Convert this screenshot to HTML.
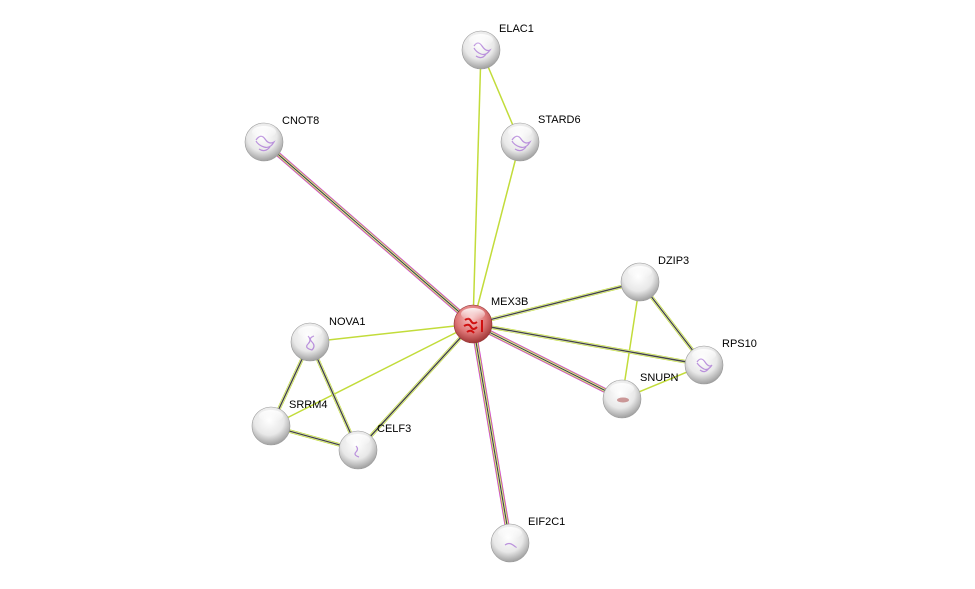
<!DOCTYPE html>
<html><head><meta charset="utf-8"><style>
html,body{margin:0;padding:0;background:#fff;}
svg{display:block;}
text{font-family:"Liberation Sans",sans-serif;font-size:11px;fill:#000;}
</style></head><body>
<svg width="975" height="589" viewBox="0 0 975 589" xmlns="http://www.w3.org/2000/svg">
<defs>
<radialGradient id="g" cx="45%" cy="35%" r="65%">
<stop offset="0" stop-color="#ffffff"/><stop offset="0.6" stop-color="#e8e8e8"/><stop offset="1" stop-color="#a0a0a0"/>
</radialGradient>
<radialGradient id="r" cx="45%" cy="35%" r="65%">
<stop offset="0" stop-color="#f8c8c8"/><stop offset="0.6" stop-color="#dd7575"/><stop offset="1" stop-color="#a03535"/>
</radialGradient>
<linearGradient id="hl" x1="0" y1="0" x2="0" y2="1">
<stop offset="0" stop-color="#fff" stop-opacity="0.9"/><stop offset="1" stop-color="#fff" stop-opacity="0"/>
</linearGradient>
</defs>
<g stroke-linecap="butt">
<g stroke="#c2dc3a" stroke-width="1.5">
<line x1="473" y1="324" x2="481" y2="50"/>
<line x1="473" y1="324" x2="520" y2="142"/>
<line x1="481" y1="50" x2="520" y2="142"/>
<line x1="473" y1="324" x2="310" y2="342"/>
<line x1="473" y1="324" x2="271" y2="426"/>
<line x1="640" y1="282" x2="622" y2="399"/>
<line x1="622" y1="399" x2="704" y2="365"/>
</g>
<g>
<line x1="473" y1="324" x2="264" y2="142" stroke="#d040d0" stroke-width="5"/>
<line x1="473" y1="324" x2="264" y2="142" stroke="#c2dc3a" stroke-width="3.4"/>
<line x1="473" y1="324" x2="264" y2="142" stroke="#fff" stroke-width="2"/>
<line x1="473" y1="324" x2="264" y2="142" stroke="#444" stroke-width="1.2"/>
<line x1="473" y1="324" x2="622" y2="399" stroke="#d040d0" stroke-width="5"/>
<line x1="473" y1="324" x2="622" y2="399" stroke="#c2dc3a" stroke-width="3.4"/>
<line x1="473" y1="324" x2="622" y2="399" stroke="#fff" stroke-width="2"/>
<line x1="473" y1="324" x2="622" y2="399" stroke="#444" stroke-width="1.2"/>
<line x1="473" y1="324" x2="510" y2="543" stroke="#d040d0" stroke-width="5"/>
<line x1="473" y1="324" x2="510" y2="543" stroke="#c2dc3a" stroke-width="3.4"/>
<line x1="473" y1="324" x2="510" y2="543" stroke="#fff" stroke-width="2"/>
<line x1="473" y1="324" x2="510" y2="543" stroke="#444" stroke-width="1.2"/>
</g>
<g>
<g stroke="#c2dc3a" stroke-width="3.6">
<line x1="473" y1="324" x2="640" y2="282"/>
<line x1="473" y1="324" x2="704" y2="365"/>
<line x1="473" y1="324" x2="358" y2="450"/>
<line x1="640" y1="282" x2="704" y2="365"/>
<line x1="310" y1="342" x2="271" y2="426"/>
<line x1="310" y1="342" x2="358" y2="450"/>
<line x1="271" y1="426" x2="358" y2="450"/>
</g>
<g stroke="#fff" stroke-width="2.2">
<line x1="473" y1="324" x2="640" y2="282"/>
<line x1="473" y1="324" x2="704" y2="365"/>
<line x1="473" y1="324" x2="358" y2="450"/>
<line x1="640" y1="282" x2="704" y2="365"/>
<line x1="310" y1="342" x2="271" y2="426"/>
<line x1="310" y1="342" x2="358" y2="450"/>
<line x1="271" y1="426" x2="358" y2="450"/>
</g>
<g stroke="#444" stroke-width="1.4">
<line x1="473" y1="324" x2="640" y2="282"/>
<line x1="473" y1="324" x2="704" y2="365"/>
<line x1="473" y1="324" x2="358" y2="450"/>
<line x1="640" y1="282" x2="704" y2="365"/>
<line x1="310" y1="342" x2="271" y2="426"/>
<line x1="310" y1="342" x2="358" y2="450"/>
<line x1="271" y1="426" x2="358" y2="450"/>
</g>
</g>
</g>
<g stroke="#999" stroke-width="0.6">
<circle cx="481" cy="50" r="19" fill="url(#g)"/>
<circle cx="520" cy="142" r="19" fill="url(#g)"/>
<circle cx="264" cy="142" r="19" fill="url(#g)"/>
<circle cx="640" cy="282" r="19" fill="url(#g)"/>
<circle cx="704" cy="365" r="19" fill="url(#g)"/>
<circle cx="622" cy="399" r="19" fill="url(#g)"/>
<circle cx="310" cy="342" r="19" fill="url(#g)"/>
<circle cx="271" cy="426" r="19" fill="url(#g)"/>
<circle cx="358" cy="450" r="19" fill="url(#g)"/>
<circle cx="510" cy="543" r="19" fill="url(#g)"/>
<circle cx="473" cy="324" r="19" fill="url(#r)" stroke="#903030"/>
</g>
<g fill="none" stroke="#b080d8" stroke-width="1.2" opacity="0.85">
<path d="M474 46 q4 -6 8 0 t8 4 q-4 6 -9 4 t-7 -6 M476 56 q6 4 10 -2"/>
<path d="M512 140 q5 -7 9 -1 t9 3 q-4 7 -10 5 t-8 -6 M515 149 q6 4 11 -2"/>
<path d="M256 140 q5 -7 9 -1 t9 3 q-4 7 -10 5 t-8 -6 M259 149 q6 4 11 -2"/>
<path d="M697 362 q4 -6 8 0 t7 3 q-4 6 -8 4 t-7 -6 M700 370 q5 4 9 -2"/>
<path d="M308 336 q4 4 0 8 t4 6 q4 -4 0 -8 t2 -6"/>
<path d="M356 446 q3 3 0 6 t3 5"/>
<path d="M505 545 q4 -3 8 0 t3 2"/>
</g>
<ellipse cx="623" cy="400" rx="6" ry="2.5" fill="#c08080" opacity="0.8"/>
<g fill="none" stroke="#d01010" stroke-width="2">
<path d="M465 320 q4 -3 6 1 t6 1 M464 326 q5 -3 7 1 t6 0 M467 332 q4 -3 7 1"/><path d="M482 320 v12"/>
</g>
<g fill="url(#hl)">
<ellipse cx="481" cy="40" rx="12" ry="6"/><ellipse cx="520" cy="132" rx="12" ry="6"/>
<ellipse cx="264" cy="132" rx="12" ry="6"/><ellipse cx="640" cy="272" rx="12" ry="6"/>
<ellipse cx="704" cy="355" rx="12" ry="6"/><ellipse cx="622" cy="389" rx="12" ry="6"/>
<ellipse cx="310" cy="332" rx="12" ry="6"/><ellipse cx="271" cy="416" rx="12" ry="6"/>
<ellipse cx="358" cy="440" rx="12" ry="6"/><ellipse cx="510" cy="533" rx="12" ry="6"/>
<ellipse cx="473" cy="314" rx="12" ry="6"/>
</g>
<text x="499" y="32">ELAC1</text>
<text x="538" y="123">STARD6</text>
<text x="282" y="124">CNOT8</text>
<text x="491" y="305">MEX3B</text>
<text x="658" y="264">DZIP3</text>
<text x="722" y="347">RPS10</text>
<text x="640" y="381">SNUPN</text>
<text x="329" y="325">NOVA1</text>
<text x="289" y="408">SRRM4</text>
<text x="377" y="432">CELF3</text>
<text x="528" y="525">EIF2C1</text>
</svg>
</body></html>
